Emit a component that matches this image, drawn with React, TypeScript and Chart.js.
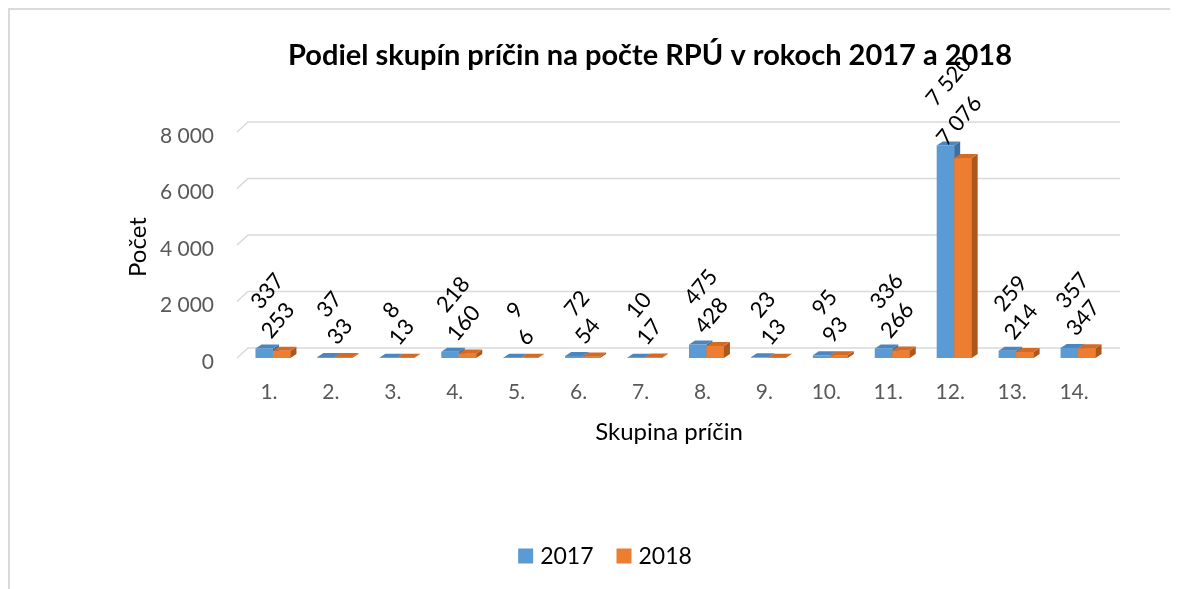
import React, { useEffect, useRef } from 'react';
import { Chart, registerables } from 'chart.js';

Chart.register(...registerables);

const categories = ['1.', '2.', '3.', '4.', '5.', '6.', '7.', '8.', '9.', '10.', '11.', '12.', '13.', '14.'];
const values2017 = [337, 37, 8, 218, 9, 72, 10, 475, 23, 95, 336, 7520, 259, 357];
const values2018 = [253, 33, 13, 160, 6, 54, 17, 428, 13, 93, 266, 7076, 214, 347];
const seriesNames = ['2017', '2018'];
const yMin = 0;
const yMax = 8000;
const yStep = 2000;
const chartTitle = 'Podiel skupín príčin na počte RPÚ v rokoch 2017 a 2018';
const xTitle = 'Skupina príčin';
const yTitle = 'Počet';

const frontColors = ['#5B9BD5', '#ED7D31'];
const topColors = ['#4C86BF', '#D46A24'];
const sideColors = ['#3F6F9E', '#AE571B'];
const FONT = 'Lato, "Open Sans", sans-serif';
const DX = 6;
const DY = 4;
const LABEL_ANGLE = (50 * Math.PI) / 180;

const fmt = (n: number) => String(n).replace(/\B(?=(\d{3})+(?!\d))/g, ' ');

function poly(ctx: CanvasRenderingContext2D, pts: number[][]) {
  ctx.beginPath();
  ctx.moveTo(pts[0][0], pts[0][1]);
  for (let i = 1; i < pts.length; i++) ctx.lineTo(pts[i][0], pts[i][1]);
  ctx.closePath();
  ctx.fill();
}

const depthPlugin = {
  id: 'depth3d',
  beforeDatasetsDraw(chart: any) {
    const { ctx, chartArea, scales } = chart;
    const y = scales.y;
    ctx.save();
    ctx.strokeStyle = '#D9D9D9';
    ctx.lineWidth = 1.5;
    for (let v = yMin; v <= yMax; v += yStep) {
      const yf = y.getPixelForValue(v);
      ctx.beginPath();
      ctx.moveTo(chartArea.left - 5, yf);
      ctx.lineTo(chartArea.left + 6, yf - 10);
      ctx.lineTo(chartArea.right + 11, yf - 10);
      ctx.stroke();
    }
    ctx.restore();
  },
  afterDatasetsDraw(chart: any) {
    const { ctx } = chart;
    const metas = [chart.getDatasetMeta(0), chart.getDatasetMeta(1)];
    ctx.save();
    for (let i = 0; i < categories.length; i++) {
      metas.forEach((meta: any, s: number) => {
        const el = meta.data[i];
        const { x, y, base, width } = el.getProps(['x', 'y', 'base', 'width'], true);
        const l = x - width / 2;
        const r = x + width / 2;
        if (s > 0) {
          ctx.fillStyle = frontColors[s];
          ctx.fillRect(l, y, width, base - y);
        }
        ctx.fillStyle = sideColors[s];
        poly(ctx, [[r, y], [r + DX, y - DY], [r + DX, base - DY], [r, base]]);
        ctx.fillStyle = topColors[s];
        poly(ctx, [[l, y], [r, y], [r + DX, y - DY], [l + DX, y - DY]]);
      });
    }
    ctx.restore();
  },
  afterDraw(chart: any) {
    const { ctx } = chart;
    ctx.save();
    // data labels, rotated
    const labelOffX = [3, -4];
    const labelOffY = [-38, -11];
    const capH = 15;
    const c = Math.cos(LABEL_ANGLE);
    const sn = Math.sin(LABEL_ANGLE);
    ctx.font = `22px ${FONT}`;
    ctx.fillStyle = '#000000';
    ctx.textAlign = 'left';
    ctx.textBaseline = 'alphabetic';
    [0, 1].forEach((s) => {
      const meta = chart.getDatasetMeta(s);
      const vals = chart.data.datasets[s].data;
      meta.data.forEach((el: any, i: number) => {
        const { x, y } = el.getProps(['x', 'y'], true);
        const txt = fmt(vals[i]);
        const w = ctx.measureText(txt).width;
        const ox = x - (w * c - capH * sn) / 2 + labelOffX[s];
        const oy = y + labelOffY[s];
        ctx.save();
        ctx.translate(ox, oy);
        ctx.rotate(-LABEL_ANGLE);
        ctx.fillText(txt, 0, 0);
        ctx.restore();
      });
    });

    // title
    ctx.font = `bold 29px ${FONT}`;
    ctx.fillStyle = '#000000';
    ctx.textAlign = 'center';
    ctx.textBaseline = 'middle';
    ctx.fillText(chartTitle, 640, 46);

    // axis titles
    ctx.font = `24px ${FONT}`;
    ctx.fillText(xTitle, 659, 422);
    ctx.save();
    ctx.translate(128, 237);
    ctx.rotate(-Math.PI / 2);
    ctx.fillText(yTitle, 0, 0);
    ctx.restore();

    // legend
    ctx.font = `23px ${FONT}`;
    ctx.textAlign = 'left';
    const box = 15;
    const gap = 7;
    const itemGap = 23;
    const widths = seriesNames.map((n) => box + gap + ctx.measureText(n).width);
    const total = widths.reduce((a, b) => a + b, 0) + itemGap * (widths.length - 1);
    let lx = 595 - total / 2;
    const ly = 546;
    seriesNames.forEach((n, s) => {
      ctx.fillStyle = frontColors[s];
      ctx.fillRect(lx, ly - box / 2, box, box);
      ctx.fillStyle = '#000000';
      ctx.fillText(n, lx + box + gap, ly + 1);
      lx += widths[s] + itemGap;
    });
    ctx.restore();
  },
};

export default function App() {
  const ref = useRef<HTMLCanvasElement | null>(null);
  useEffect(() => {
    if (!ref.current) return;
    const chart = new Chart(ref.current, {
      type: 'bar',
      data: {
        labels: categories,
        datasets: [
          { label: seriesNames[0], data: values2017, backgroundColor: frontColors[0], borderWidth: 0 },
          { label: seriesNames[1], data: values2018, backgroundColor: frontColors[1], borderWidth: 0 },
        ],
      },
      options: {
        animation: false,
        responsive: true,
        maintainAspectRatio: false,
        datasets: { bar: { categoryPercentage: 0.565, barPercentage: 1 } },
        layout: { padding: { left: 0, right: 69, top: 122, bottom: 0 } },
        plugins: { legend: { display: false }, title: { display: false }, tooltip: { enabled: false } },
        scales: {
          x: {
            grid: { display: false, drawTicks: false },
            border: { display: false },
            ticks: { padding: 22, labelOffset: -4, color: '#595959', font: { family: FONT, size: 21 }, maxRotation: 0, autoSkip: false },
            afterFit: (s: any) => { s.height = 231; },
          },
          y: {
            min: yMin,
            max: yMax,
            grid: { display: false, drawTicks: false },
            border: { display: false },
            ticks: {
              stepSize: yStep,
              padding: 28,
              labelOffset: 4,
              color: '#595959',
              font: { family: FONT, size: 21 },
              callback: (v: any) => fmt(Number(v)),
            },
            afterFit: (s: any) => { s.width = 232; },
          },
        },
      },
      plugins: [depthPlugin],
    });
    return () => chart.destroy();
  }, []);
  return (
    <div
      style={{
        width: 1170,
        height: 581,
        boxSizing: 'border-box',
        borderTop: '2px solid #DADADA',
        borderLeft: '2px solid #DADADA',
        position: 'relative',
      }}
    >
      <div style={{ position: 'relative', width: 1168, height: 579 }}>
        <canvas ref={ref} />
      </div>
    </div>
  );
}
